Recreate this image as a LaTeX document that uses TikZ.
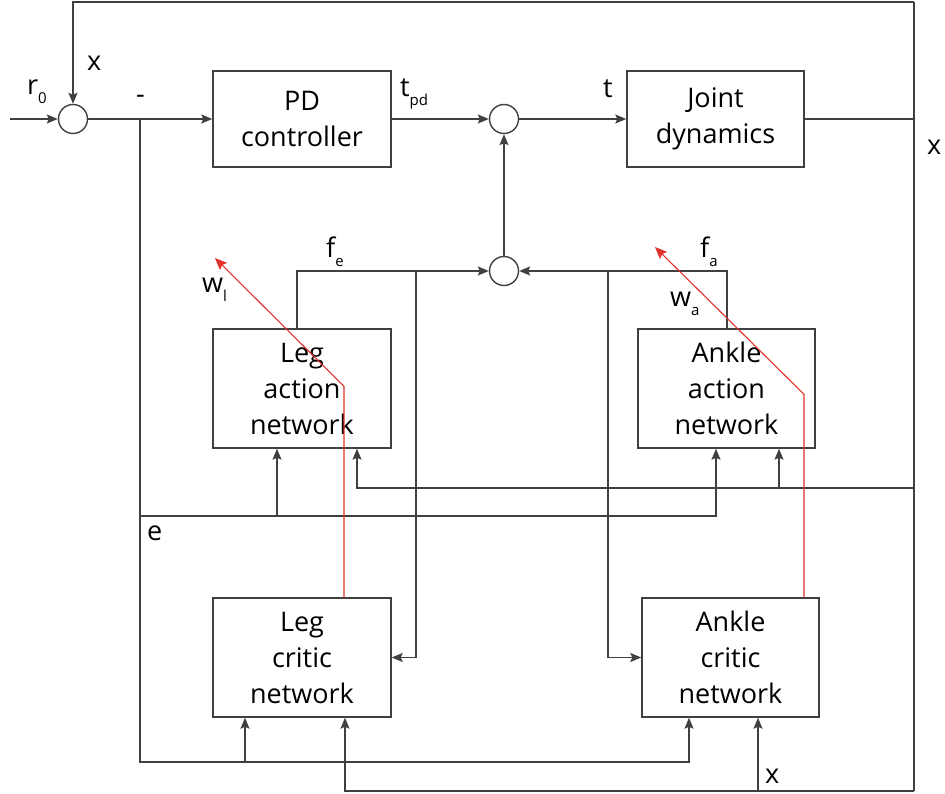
\documentclass[tikz,border=0pt]{standalone}
\usepackage{fontspec}
\setmainfont{Open Sans}
\usetikzlibrary{arrows.meta, positioning}
\definecolor{lngray}{RGB}{64,64,64}
\definecolor{wred}{RGB}{226,48,42}
\newcommand{\lowsub}[1]{\raisebox{-9pt}{\fontsize{15}{15}\selectfont #1}}

\begin{document}
\begin{tikzpicture}[
    x=1pt, y=-1pt,
    blk/.style={
      draw=lngray, line width=1.4pt, align=center, inner sep=0pt,
      minimum width=178pt, minimum height=119pt, font=\fontsize{27}{36}\selectfont
    },
    sblk/.style={blk, minimum height=96pt},
    sumc/.style={circle, draw=lngray, line width=1.4pt, minimum size=29pt, inner sep=0pt},
    lbl/.style={anchor=base west, inner sep=0pt, font=\fontsize{27}{30}\selectfont},
    ln/.style={draw=lngray, line width=1.4pt},
    fl/.style={ln, -{Stealth[length=11pt, width=9pt, inset=2pt]}},
    wfl/.style={draw=wred, line width=1.1pt, -{Stealth[length=12pt, width=10pt, inset=2pt]}}
  ]
    \useasboundingbox (0,0) rectangle (945,794);

    % --- blocks ---
    \node[sumc] (s1)   at (73,119) {};
    \node[sumc] (s2)   at (504,119) {};
    \node[sumc] (s3)   at (504,271) {};
    \node[sblk] (pd)   at (302,119) {PD\\controller};
    \node[sblk, minimum width=177pt] (jd) at (715.5,119) {Joint\\dynamics};
    \node[blk]  (lact) at (302,388.5) {Leg\\action\\network};
    \node[blk, minimum width=177pt] (aact) at (726.5,388.5) {Ankle\\action\\network};
    \node[blk]  (lcri) at (302,657.5) {Leg\\critic\\network};
    \node[blk, minimum width=177pt] (acri) at (730.5,657.5) {Ankle\\critic\\network};

    \coordinate (in) at (10,119);
    \coordinate (br) at (140,119);
    \coordinate (em) at (140,516);
    \coordinate (eb) at (140,762);
    \coordinate (xt) at (914,2);
    \coordinate (xr) at (914,119);
    \coordinate (xm) at (914,488);
    \coordinate (xb) at (914,791);
    \coordinate (fe) at (416,271);
    \coordinate (fa) at (608,271);
    \coordinate (wl) at (215,258);
    \coordinate (wa) at (655,247);

    % --- main loop ---
    \draw[fl] (in) -- (s1);
    \draw[fl] (s1) -- (pd);
    \draw[fl] (pd) -- (s2);
    \draw[fl] (s2) -- (jd);
    \draw[fl] (s3) -- (s2);
    \draw[ln] (jd) -- (xr);
    \draw[ln] (xt) -- (xb);
    \draw[fl] (xt) -| (s1);

    % --- error e ---
    \draw[fl] (br) -- (eb) -| ([xshift=-41.5pt]acri.south);
    \draw[fl] ([xshift=-57pt]lcri.south |- eb) -- ([xshift=-57pt]lcri.south);
    \draw[fl] (em) -| ([xshift=-10.5pt]aact.south);
    \draw[fl] ([xshift=-25pt]lact.south |- em) -- ([xshift=-25pt]lact.south);

    % --- state x ---
    \draw[fl] (xm) -| ([xshift=55pt]lact.south);
    \draw[fl] ([xshift=52.5pt]aact.south |- xm) -- ([xshift=52.5pt]aact.south);
    \draw[fl] (xb) -| ([xshift=43pt]lcri.south);
    \draw[fl] ([xshift=27.5pt]acri.south |- xb) -- ([xshift=27.5pt]acri.south);

    % --- actions ---
    \draw[fl] ([xshift=-5pt]lact.north) |- (s3);
    \draw[fl] (fe) |- (lcri);
    \draw[fl] ([xshift=0.5pt]aact.north) |- (s3);
    \draw[fl] (fa) |- (acri);

    % --- weight updates ---
    \draw[wfl] ([xshift=42pt]lcri.north) -- ++(0,-211) -- (wl);
    \draw[wfl] ([xshift=73.5pt]acri.north) -- ++(0,-203) -- (wa);

    % --- labels ---
    \node[lbl] (lr0) at (27,95)   {r\lowsub{0}};
    \node[lbl] (lx1) at (87,71)   {x};
    \node[lbl] (lmn) at (136,104) {-};
    \node[lbl] (ltp) at (400,97)  {t\lowsub{pd}};
    \node[lbl] (lt)  at (603,98)  {t};
    \node[lbl] (lx2) at (927,155) {x};
    \node[lbl] (lfe) at (326,258) {f\lowsub{e}};
    \node[lbl] (lwl) at (202,293) {w\lowsub{l}};
    \node[lbl] (lfa) at (700,258) {f\lowsub{a}};
    \node[lbl] (lwa) at (670,307) {w\lowsub{a}};
    \node[lbl] (le)  at (147,540) {e};
    \node[lbl] (lx3) at (765,783) {x};
\end{tikzpicture}
\end{document}
